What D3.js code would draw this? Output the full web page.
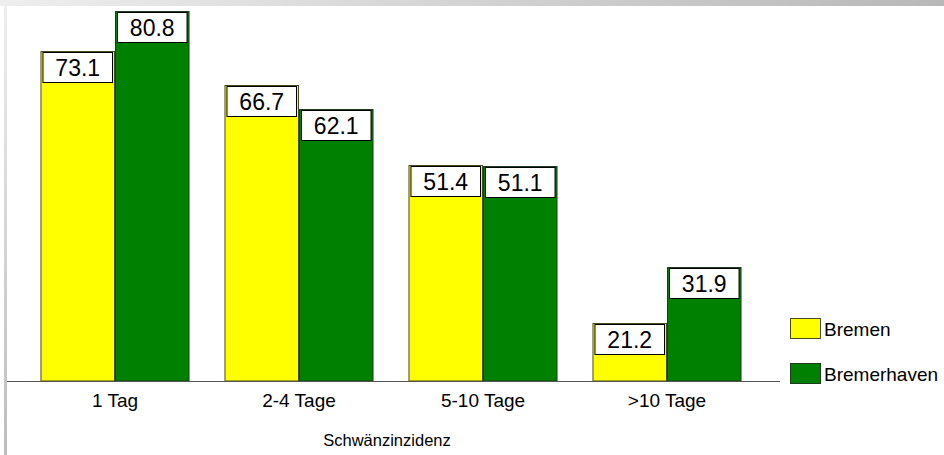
<!DOCTYPE html>
<html>
<head>
<meta charset="utf-8">
<script src="https://cdn.jsdelivr.net/npm/d3@7"></script>
<style>
html,body{margin:0;padding:0;background:#fff;}
svg{display:block;font-family:"Liberation Sans",Arial,Helvetica,sans-serif;}
</style>
</head>
<body>
<svg id="chart" width="944" height="455"></svg>
<script>
const categories = ["1 Tag", "2-4 Tage", "5-10 Tage", ">10 Tage"];
const seriesNames = ["Bremen", "Bremerhaven"];
const bremen = [73.1, 66.7, 51.4, 21.2];
const bremerhaven = [80.8, 62.1, 51.1, 31.9];
const colors = ["#ffff00", "#008000"];
const strokes = ["#4a4a20", "#1d3d1d"];
const xTitle = "Schwänzinzidenz";

const svg = d3.select("#chart");
const defs = svg.append("defs");
const gTop = defs.append("linearGradient").attr("id","gtop").attr("x1","0").attr("x2","1").attr("y1","0").attr("y2","0");
gTop.append("stop").attr("offset","0").attr("stop-color","#eeeeee");
gTop.append("stop").attr("offset","1").attr("stop-color","#b8b8b8");
const gLeft = defs.append("linearGradient").attr("id","gleft").attr("x1","0").attr("x2","0").attr("y1","0").attr("y2","1");
gLeft.append("stop").attr("offset","0").attr("stop-color","#eeeeee");
gLeft.append("stop").attr("offset","1").attr("stop-color","#bdbdbd");

svg.append("rect").attr("x",0).attr("y",0).attr("width",944).attr("height",6).attr("fill","url(#gtop)");
svg.append("rect").attr("x",4).attr("y",6).attr("width",3).attr("height",449).attr("fill","url(#gleft)");

const x0 = d3.scaleBand().domain(categories).range([23, 759]).paddingInner(0.19).paddingOuter(0.095);
const x1 = d3.scaleBand().domain(seriesNames).range([0, x0.bandwidth()]);
const y = d3.scaleLinear().domain([10, 82]).range([381, 5]);

const data = categories.map((c, i) => ({cat: c, vals: [bremen[i], bremerhaven[i]]}));

const groups = svg.append("g").selectAll("g").data(data).join("g")
  .attr("transform", d => `translate(${x0(d.cat)},0)`);

groups.selectAll("rect.bar").data(d => d.vals.map((v, j) => ({v, j})))
  .join("rect").attr("class","bar")
  .attr("x", d => x1(seriesNames[d.j]) + 0.5)
  .attr("y", d => Math.round(y(d.v)) + 0.5)
  .attr("width", x1.bandwidth() - 1)
  .attr("height", d => y.range()[0] - Math.round(y(d.v)) - 0.5)
  .attr("fill", d => colors[d.j])
  .attr("stroke", d => strokes[d.j])
  .attr("stroke-width", 1);

groups.selectAll("rect.lbl").data(d => d.vals.map((v, j) => ({v, j})))
  .join("rect").attr("class","lbl")
  .attr("x", d => x1(seriesNames[d.j]) + 2.5)
  .attr("y", d => Math.round(y(d.v)) + 1.5)
  .attr("width", x1.bandwidth() - 5)
  .attr("height", 30)
  .attr("fill", "#fff")
  .attr("stroke", "#000")
  .attr("stroke-width", 1);

groups.selectAll("text.val").data(d => d.vals.map((v, j) => ({v, j})))
  .join("text").attr("class","val")
  .attr("x", d => x1(seriesNames[d.j]) + x1.bandwidth() / 2)
  .attr("y", d => Math.round(y(d.v)) + 25)
  .attr("text-anchor", "middle")
  .attr("font-size", "23px")
  .attr("fill", "#000")
  .text(d => d.v.toFixed(1));

// baseline
svg.append("line").attr("x1",7).attr("x2",780).attr("y1",381.5).attr("y2",381.5)
  .attr("stroke","#555").attr("stroke-width",1);

// category axis labels
const xAxis = d3.axisBottom(x0).tickSize(0).tickPadding(0);
const ax = svg.append("g").attr("transform","translate(0,381)").call(xAxis);
ax.select(".domain").remove();
ax.selectAll("text").attr("font-size","19px").attr("fill","#000")
  .attr("font-family","'Liberation Sans',Arial,sans-serif").attr("dy",null).attr("y",26);

svg.append("text").attr("x", 387).attr("y", 446).attr("text-anchor","middle")
  .attr("font-size","16.5px").attr("fill","#000").text(xTitle);

// legend
const leg = svg.append("g").selectAll("g").data(seriesNames).join("g")
  .attr("transform", (d, i) => `translate(790,${318 + i * 45})`);
leg.append("rect").attr("x",0.5).attr("y",0.5).attr("width",30).attr("height",20)
  .attr("fill",(d,i)=>colors[i]).attr("stroke",(d,i)=>strokes[i]);
leg.append("text").attr("x",34).attr("y",18).attr("font-size","19px").attr("fill","#000").text(d=>d);
</script>
</body>
</html>
